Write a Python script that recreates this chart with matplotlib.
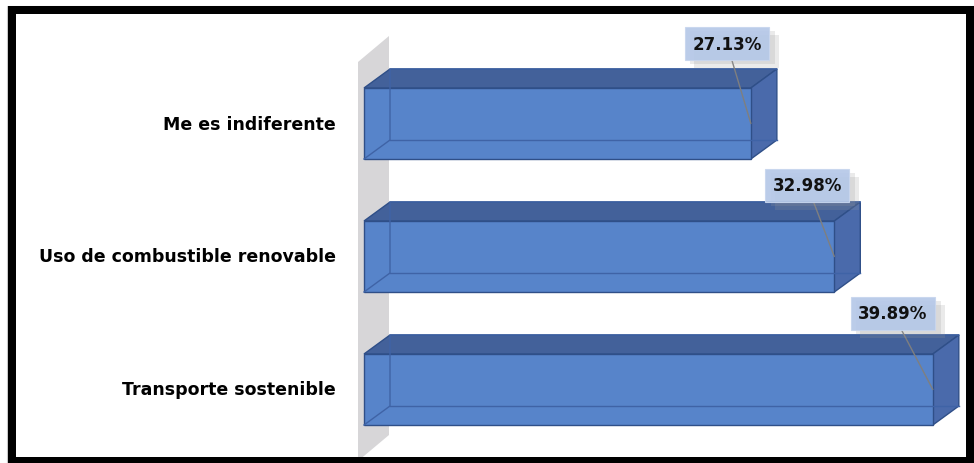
import matplotlib
matplotlib.use("Agg")
import matplotlib.pyplot as plt
from matplotlib.patches import Polygon, Rectangle
import matplotlib.patheffects as pe

# survey answers, bottom to top
categories = ['Transporte sostenible', 'Uso de combustible renovable', 'Me es indiferente']
values = [39.89, 32.98, 27.13]
value_labels = ['39.89%', '32.98%', '27.13%']

# label box offsets from the bar end (pixels)
label_offsets = [(-40, 76), (-27, 71), (-24, 80)]

W, H = 974, 464
fig = plt.figure(figsize=(W / 100, H / 100), dpi=100)
ax = fig.add_axes([0, 0, 1, 1])

# pixel layout of the plot area
X0_PX = 364          # where 0% sits
PX_PER_PCT = 14.26
Y0_PX = 390.5        # centre of the bottom bar (from top)
PX_PER_CAT = 133.0
ax.set_xlim(-X0_PX / PX_PER_PCT, (W - X0_PX) / PX_PER_PCT)
ax.set_ylim(-(H - Y0_PX) / PX_PER_CAT, Y0_PX / PX_PER_CAT)
ax.axis('off')

def dx(px):
    return px / PX_PER_PCT

def dy(px):
    return px / PX_PER_CAT

bar_h = dy(71)
depth_x, depth_y = dx(26), dy(19)

# grey side wall behind the bars
wx0, wdx, wdy = -dx(6), dx(31), dy(26)
wy_top = Y0_PX / PX_PER_CAT - dy(63)
wy_bot = -(H - Y0_PX) / PX_PER_CAT + dy(2)
ax.add_patch(Polygon([(wx0, wy_bot), (wx0, wy_top), (wx0 + wdx, wy_top + wdy),
                      (wx0 + wdx, wy_bot + wdy)],
                     closed=True, facecolor='#d7d6d8', edgecolor='none', zorder=1))

front_c = '#5784ca'
top_c = '#43619a'
side_c = '#4a6aab'
edge_c = '#2f4f88'

for i, v in enumerate(values):
    y0, y1 = i - bar_h / 2, i + bar_h / 2
    ax.add_patch(Polygon([(0, y1), (depth_x, y1 + depth_y), (v + depth_x, y1 + depth_y), (v, y1)],
                         closed=True, facecolor=top_c, edgecolor=edge_c, lw=1.0, zorder=2))
    ax.add_patch(Polygon([(v, y0), (v, y1), (v + depth_x, y1 + depth_y), (v + depth_x, y0 + depth_y)],
                         closed=True, facecolor=side_c, edgecolor=edge_c, lw=1.0, zorder=2))
    ax.add_patch(Rectangle((0, y0), v, bar_h, facecolor=front_c, edgecolor=edge_c,
                           lw=1.0, zorder=3))
    # hidden back edges show through the translucent box
    ax.plot([0, depth_x, depth_x, v + depth_x], [y0, y0 + depth_y, y1 + depth_y, y1 + depth_y],
            color='#3f63a6', lw=1.0, zorder=3.5)
    ax.plot([depth_x, v + depth_x], [y0 + depth_y, y0 + depth_y], color='#3f63a6', lw=1.0, zorder=3.5)

    # category label
    ax.text(-dx(28), i, categories[i], ha='right', va='center', fontsize=12.5,
            fontweight='bold', color='black', zorder=5)

    # value label with leader line
    ox, oy = label_offsets[i]
    ann = ax.annotate(value_labels[i], xy=(v, i), xytext=(ox, oy), textcoords='offset pixels',
                      ha='center', va='center', fontsize=12, fontweight='bold', color='#111111',
                      bbox=dict(boxstyle='square,pad=0.45', facecolor='#b5c8e8', edgecolor='#c8d6ee',
                                lw=0.8, alpha=0.92),
                      arrowprops=dict(arrowstyle='-', color='#7f7f7f', lw=1.0,
                                      shrinkA=0, shrinkB=0),
                      zorder=6)
    ann.get_bbox_patch().set_path_effects([
        pe.SimplePatchShadow(offset=(7, -6), shadow_rgbFace='#999999', alpha=0.2),
        pe.SimplePatchShadow(offset=(4, -3), shadow_rgbFace='#999999', alpha=0.2),
        pe.Normal()])

# thin grey line and black outer frame
fig.patches.append(Rectangle((7 / W, -10 / H), (W + 10) / W, (H - 6.5 + 10) / H,
                             transform=fig.transFigure, fill=False, edgecolor='#c8c8c8',
                             lw=0.8, zorder=9))
fig.patches.append(Rectangle((12 / W, (H - 462) / H), (970 - 12) / W, (462 - 11) / H,
                             transform=fig.transFigure, fill=False, edgecolor='black',
                             lw=8 * 72 / 100, zorder=10))

fig.savefig('out.png', dpi=100)
